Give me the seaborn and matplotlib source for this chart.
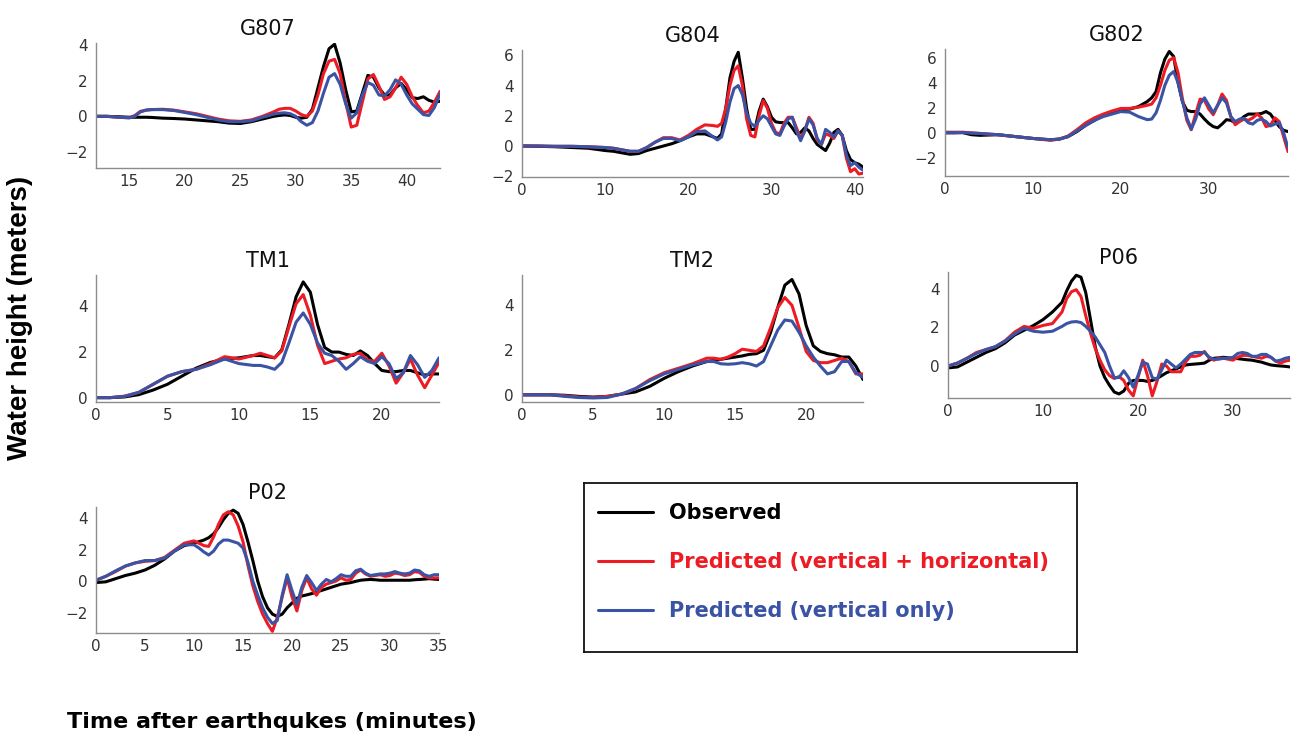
import matplotlib
matplotlib.use('Agg')
import matplotlib.pyplot as plt
from matplotlib.lines import Line2D
import numpy as np
import pandas as pd
import seaborn as sns

sns.set_theme(style='white')
plt.rcParams['font.family'] = ['DejaVu Sans']

# ---------------- data (water height in metres vs minutes) ----------------
series_names = ['Observed', 'Predicted (vertical + horizontal)', 'Predicted (vertical only)']
series_colors = ['#000000', '#ed1c24', '#3a53a4']

g807_t = np.concatenate([[12, 13, 14, 15, 15.5, 16, 16.5, 17, 18, 19, 20, 21, 22, 23, 24, 25, 26, 27, 28],
                         np.arange(28.5, 43.01, 0.5)])
g807_obs = [0, 0, -0.02, -0.05, -0.05, -0.05, -0.05, -0.06, -0.1, -0.12, -0.15, -0.2, -0.25, -0.3, -0.38, -0.4, -0.3, -0.15, 0.0,
            0.05, 0.08, 0.05, -0.05, -0.1, -0.05, 0.4, 1.6, 2.8, 3.8, 4.05, 3.0, 1.5, 0.25, 0.3, 1.3, 2.3, 2.2, 1.6, 1.2,
            1.2, 1.6, 1.85, 1.5, 1.05, 1.0, 1.1, 0.9, 0.8, 0.85]
g807_hv = [0, 0, -0.05, -0.08, 0.05, 0.28, 0.35, 0.38, 0.4, 0.35, 0.25, 0.15, 0.0, -0.15, -0.25, -0.28, -0.2, 0.0, 0.25,
           0.4, 0.45, 0.45, 0.3, 0.1, 0.0, 0.3, 1.2, 2.4, 3.1, 3.2, 2.4, 0.8, -0.6, -0.5, 0.8, 2.1, 2.35, 1.7, 0.95,
           1.1, 1.6, 2.2, 1.8, 1.1, 0.6, 0.2, 0.3, 0.8, 1.4]
g807_v = [0, 0, -0.05, -0.08, 0.0, 0.25, 0.35, 0.38, 0.38, 0.33, 0.22, 0.1, -0.05, -0.2, -0.3, -0.3, -0.25, -0.05, 0.12,
          0.18, 0.2, 0.15, 0.0, -0.3, -0.5, -0.35, 0.3, 1.3, 2.2, 2.4, 1.8, 0.7, -0.1, 0.2, 1.2, 1.9, 1.75, 1.2, 1.15,
          1.5, 2.05, 1.8, 1.2, 0.7, 0.4, 0.1, 0.05, 0.5, 1.25]

g804_t = np.concatenate([[0, 2, 4, 6, 8, 10, 11, 12, 13, 14, 15, 16, 17, 18, 19, 20, 21, 22, 23],
                         np.arange(23.5, 41.01, 0.5)])
g804_obs = [0, -0.02, -0.05, -0.1, -0.15, -0.3, -0.35, -0.45, -0.55, -0.5, -0.3, -0.15, 0.0, 0.15, 0.35, 0.6, 0.8, 0.8, 0.6,
            0.5, 0.8, 2.5, 4.5, 5.6, 6.2, 4.5, 2.5, 1.1, 1.1, 2.3, 3.1, 2.6, 1.9, 1.6, 1.55, 1.55, 1.55, 1.2, 0.8,
            0.9, 1.2, 1.0, 0.5, 0.1, -0.1, -0.3, 0.2, 0.9, 1.1, 0.7, -0.3, -0.9, -1.1, -1.2, -1.4]
g804_hv = [0, 0, -0.02, -0.02, -0.05, -0.1, -0.15, -0.25, -0.35, -0.35, -0.1, 0.25, 0.55, 0.55, 0.4, 0.7, 1.1, 1.4, 1.35,
           1.3, 1.5, 2.5, 4.0, 5.0, 5.3, 4.0, 1.8, 0.7, 0.6, 2.0, 3.0, 2.5, 1.5, 0.9, 0.8, 1.5, 1.9, 1.9, 1.2,
           0.5, 1.0, 1.9, 1.5, 0.4, 0.1, 0.8, 0.7, 0.5, 1.0, 0.7, -0.8, -1.7, -1.5, -1.85, -1.8]
g804_v = [0, 0, -0.02, -0.02, -0.05, -0.1, -0.15, -0.25, -0.35, -0.35, -0.1, 0.25, 0.5, 0.5, 0.35, 0.6, 0.95, 1.0, 0.6,
          0.4, 0.6, 1.6, 2.9, 3.8, 4.0, 3.4, 2.2, 1.5, 1.3, 1.7, 2.0, 1.8, 1.3, 0.8, 0.7, 1.3, 1.8, 1.9, 1.0,
          0.35, 1.0, 1.8, 1.4, 0.5, 0.1, 1.1, 0.9, 0.6, 1.0, 0.7, -0.6, -1.3, -1.1, -1.4, -1.6]

g802_t = np.concatenate([[0, 1, 2, 3, 4, 6, 8, 10, 12, 13, 14, 15, 16, 17, 18, 19, 20, 21, 22, 23],
                         np.arange(23.5, 39.01, 0.5)])
g802_obs = [0, 0, 0.02, -0.15, -0.2, -0.15, -0.3, -0.45, -0.55, -0.5, -0.3, 0.1, 0.6, 1.0, 1.4, 1.65, 1.85, 1.9, 2.1, 2.5,
            2.8, 3.3, 4.8, 5.9, 6.5, 6.1, 4.0, 2.5, 1.8, 1.7, 1.7, 1.5, 1.1, 0.75, 0.5, 0.4, 0.7, 1.05, 1.0, 0.8,
            1.0, 1.3, 1.5, 1.5, 1.5, 1.55, 1.7, 1.5, 1.0, 0.5, 0.2, 0.1]
g802_hv = [0.05, 0.05, 0.05, 0.0, -0.05, -0.15, -0.3, -0.45, -0.6, -0.5, -0.25, 0.25, 0.8, 1.2, 1.5, 1.75, 1.95, 1.95, 2.05, 2.2,
           2.3, 2.8, 3.8, 5.0, 5.8, 6.0, 4.8, 2.7, 1.0, 0.25, 1.5, 2.7, 2.6, 1.9, 1.45, 2.2, 3.1, 2.6, 1.3, 0.65,
           0.9, 1.1, 1.0, 1.2, 1.5, 1.2, 0.5, 0.6, 1.2, 0.9, -0.3, -1.5]
g802_v = [0.02, 0.02, 0.02, -0.02, -0.05, -0.15, -0.3, -0.45, -0.55, -0.5, -0.3, 0.15, 0.6, 1.0, 1.3, 1.5, 1.7, 1.65, 1.3, 1.05,
          1.1, 1.6, 2.6, 3.8, 4.6, 4.9, 4.0, 2.5, 1.2, 0.3, 1.1, 2.3, 2.8, 2.2, 1.6, 2.2, 2.8, 2.4, 1.3, 0.9,
          1.1, 1.15, 0.8, 0.7, 1.0, 1.1, 0.9, 0.55, 0.7, 0.8, 0.0, -1.2]

tm1_t = np.concatenate([np.arange(0, 12), np.arange(11.5, 24.01, 0.5)])
tm1_obs = [0.02, 0.02, 0.05, 0.15, 0.35, 0.6, 0.95, 1.3, 1.55, 1.7, 1.75, 1.85,
           1.85, 1.8, 1.75, 2.1, 3.2, 4.4, 5.05, 4.6, 3.2, 2.2, 2.0, 2.0, 1.9, 1.85, 2.05, 1.85, 1.5, 1.2,
           1.15, 1.15, 1.2, 1.2, 1.1, 1.0, 1.05, 1.05]
tm1_hv = [0.02, 0.02, 0.08, 0.25, 0.6, 0.95, 1.15, 1.25, 1.5, 1.8, 1.7, 1.85,
          1.95, 1.85, 1.75, 2.05, 3.1, 4.1, 4.5, 3.6, 2.3, 1.5, 1.6, 1.7, 1.75, 1.9, 1.95, 1.65, 1.6, 1.95,
          1.4, 0.65, 1.1, 1.7, 1.0, 0.45, 1.0, 1.55]
tm1_v = [0.02, 0.02, 0.08, 0.25, 0.6, 0.95, 1.15, 1.25, 1.45, 1.7, 1.5, 1.42,
         1.42, 1.35, 1.25, 1.55, 2.4, 3.3, 3.7, 3.2, 2.4, 1.95, 1.85, 1.6, 1.25, 1.5, 1.8, 1.6, 1.5, 1.8,
         1.5, 0.85, 1.1, 1.85, 1.45, 0.9, 1.2, 1.75]

tm2_t = np.concatenate([np.arange(0, 14), np.arange(13.5, 24.01, 0.5)])
tm2_obs = [0.02, 0.02, 0.02, 0.0, -0.05, -0.08, -0.05, 0.05, 0.15, 0.4, 0.75, 1.05, 1.3, 1.5, 1.55, 1.6,
           1.65, 1.7, 1.75, 1.82, 1.85, 2.0, 2.8, 3.9, 4.9, 5.15, 4.5, 3.1, 2.2, 1.95, 1.85, 1.8, 1.7, 1.7, 1.3, 0.7]
tm2_hv = [0.02, 0.02, 0.02, -0.02, -0.08, -0.1, -0.05, 0.05, 0.3, 0.7, 1.0, 1.2, 1.4, 1.65, 1.65, 1.6,
          1.7, 1.85, 2.05, 2.0, 1.95, 2.2, 3.0, 3.9, 4.35, 4.0, 3.0, 1.95, 1.55, 1.45, 1.45, 1.55, 1.65, 1.5, 0.95, 0.95]
tm2_v = [0.02, 0.02, 0.02, -0.05, -0.1, -0.12, -0.1, 0.05, 0.3, 0.65, 0.95, 1.15, 1.35, 1.5, 1.5, 1.4,
         1.38, 1.4, 1.45, 1.4, 1.3, 1.5, 2.2, 2.9, 3.35, 3.3, 2.8, 2.2, 1.7, 1.3, 0.95, 1.05, 1.5, 1.5, 1.0, 0.8]

p06_t = np.concatenate([np.arange(0, 13), np.arange(12.5, 36.01, 0.5)])
p06_obs = [-0.1, -0.05, 0.2, 0.45, 0.7, 0.9, 1.2, 1.6, 1.85, 2.1, 2.4, 2.8, 3.3,
           3.9, 4.4, 4.7, 4.6, 3.8, 2.4, 1.0, 0.0, -0.6, -1.0, -1.35, -1.45, -1.3, -0.9, -0.75, -0.75, -0.75,
           -0.8, -0.75, -0.65, -0.5, -0.35, -0.25, -0.15, -0.05, 0.05, 0.08, 0.1, 0.12, 0.15, 0.3, 0.4, 0.42,
           0.45, 0.42, 0.4, 0.38, 0.35, 0.32, 0.3, 0.25, 0.2, 0.12, 0.05, 0.02, 0.0, -0.02, -0.05]
p06_hv = [0.0, 0.15, 0.4, 0.7, 0.85, 1.0, 1.3, 1.75, 2.05, 1.95, 2.1, 2.2, 2.8,
          3.5, 3.85, 3.95, 3.6, 2.6, 1.7, 0.9, 0.3, -0.2, -0.5, -0.65, -0.55, -0.75, -1.25, -1.55, -0.6, 0.3,
          -0.5, -1.55, -0.8, 0.1, 0.0, -0.3, -0.3, -0.3, 0.2, 0.5, 0.5, 0.55, 0.75, 0.4, 0.3, 0.4,
          0.4, 0.35, 0.3, 0.45, 0.55, 0.55, 0.5, 0.45, 0.4, 0.5, 0.45, 0.25, 0.15, 0.25, 0.3]
p06_v = [0.0, 0.15, 0.4, 0.65, 0.85, 1.0, 1.3, 1.65, 1.95, 1.8, 1.75, 1.8, 2.05,
         2.2, 2.28, 2.3, 2.25, 2.05, 1.8, 1.5, 1.1, 0.7, 0.0, -0.6, -0.6, -0.25, -0.6, -1.1, -0.5, 0.2,
         0.1, -0.6, -0.7, -0.2, 0.3, 0.1, -0.1, 0.1, 0.35, 0.6, 0.7, 0.7, 0.7, 0.45, 0.35, 0.35,
         0.4, 0.4, 0.45, 0.65, 0.7, 0.65, 0.5, 0.5, 0.6, 0.6, 0.45, 0.25, 0.3, 0.4, 0.45]

p02_t = np.concatenate([np.arange(0, 11), np.arange(10.5, 35.01, 0.5)])
p02_obs = [-0.1, -0.05, 0.15, 0.35, 0.5, 0.7, 1.0, 1.4, 1.9, 2.25, 2.4,
           2.5, 2.6, 2.75, 3.0, 3.4, 3.9, 4.3, 4.5, 4.3, 3.6, 2.5, 1.3, 0.0, -1.0, -1.7, -2.1, -2.25, -2.1, -1.7,
           -1.4, -1.1, -0.95, -0.88, -0.8, -0.7, -0.6, -0.5, -0.4, -0.3, -0.2, -0.15, -0.1, -0.02, 0.05, 0.08,
           0.1, 0.08, 0.05, 0.05, 0.05, 0.05, 0.05, 0.05, 0.05, 0.08, 0.1, 0.12, 0.15, 0.12, 0.1]
p02_hv = [0.05, 0.3, 0.6, 0.95, 1.15, 1.25, 1.3, 1.5, 1.95, 2.4, 2.55,
          2.4, 2.25, 2.2, 2.8, 3.6, 4.2, 4.4, 4.2, 3.5, 2.5, 1.0, -0.3, -1.3, -2.1, -2.7, -3.2, -2.3, -1.0, 0.2,
          -1.0, -1.9, -0.6, 0.2, -0.5, -0.9, -0.4, -0.2, -0.1, 0.0, 0.2, 0.05, 0.1, 0.5, 0.7, 0.45,
          0.3, 0.35, 0.4, 0.3, 0.35, 0.5, 0.45, 0.35, 0.4, 0.6, 0.55, 0.3, 0.2, 0.2, 0.2]
p02_v = [0.05, 0.3, 0.65, 0.95, 1.15, 1.3, 1.3, 1.45, 1.9, 2.3, 2.3,
         2.1, 1.85, 1.65, 1.9, 2.35, 2.6, 2.6, 2.5, 2.4, 2.1, 1.2, 0.0, -0.9, -1.7, -2.3, -2.7, -2.5, -0.9, 0.4,
         -0.6, -1.5, -0.4, 0.35, -0.1, -0.6, -0.2, 0.1, -0.05, 0.15, 0.4, 0.3, 0.3, 0.65, 0.75, 0.5,
         0.35, 0.4, 0.45, 0.45, 0.5, 0.6, 0.5, 0.45, 0.5, 0.7, 0.65, 0.4, 0.3, 0.4, 0.4]

# ---------------- layout (pixel boxes of the 1300x747 figure) ----------------
W, H = 1300, 747
panels = [
    # name, t, obs, h+v, v, (left, top, right, bottom), ylim, xlim, xticks, yticks
    ('G807', g807_t, g807_obs, g807_hv, g807_v, (96, 43, 440, 168), (-2.9, 4.12), (12, 43), range(15, 41, 5), [-2, 0, 2, 4]),
    ('G804', g804_t, g804_obs, g804_hv, g804_v, (522, 50, 863, 177), (-2.05, 6.35), (0, 41), range(0, 41, 10), [-2, 0, 2, 4, 6]),
    ('G802', g802_t, g802_obs, g802_hv, g802_v, (945, 49, 1288, 176), (-3.45, 6.7), (0, 39), range(0, 31, 10), [-2, 0, 2, 4, 6]),
    ('TM1', tm1_t, tm1_obs, tm1_hv, tm1_v, (96, 275, 439, 402), (-0.17, 5.35), (0, 24), range(0, 21, 5), [0, 2, 4]),
    ('TM2', tm2_t, tm2_obs, tm2_hv, tm2_v, (522, 275, 863, 402), (-0.3, 5.35), (0, 24), range(0, 21, 5), [0, 2, 4]),
    ('P06', p06_t, p06_obs, p06_hv, p06_v, (948, 272, 1290, 398), (-1.66, 4.87), (0, 36), range(0, 31, 10), [0, 2, 4]),
    ('P02', p02_t, p02_obs, p02_hv, p02_v, (96, 507, 439, 633), (-3.3, 4.7), (0, 35), range(0, 36, 5), [-2, 0, 2, 4]),
]

fig = plt.figure(figsize=(W / 100, H / 100), dpi=100)

for name, t, obs, hv, v, box, ylim, xlim, xt, yt in panels:
    l, tp, r, b = box
    ax = fig.add_axes([l / W, 1 - b / H, (r - l) / W, (b - tp) / H])
    df = pd.DataFrame({
        'time': np.tile(t, 3),
        'height': np.concatenate([obs, hv, v]),
        'series': np.repeat(series_names, len(t)),
    })
    sns.lineplot(data=df, x='time', y='height', hue='series', hue_order=series_names,
                 palette=series_colors, linewidth=2.2, estimator=None, sort=False,
                 legend=False, ax=ax)
    ax.set_xlim(*xlim)
    ax.set_ylim(*ylim)
    ax.set_xticks(list(xt))
    ax.set_yticks(yt)
    ax.set_xlabel('')
    ax.set_ylabel('')
    ax.set_title(name, fontsize=15, pad=6, color='#111111')
    for s in ['top', 'right']:
        ax.spines[s].set_visible(False)
    for s in ['left', 'bottom']:
        ax.spines[s].set_color('#8c8c8c')
        ax.spines[s].set_linewidth(1.0)
    ax.tick_params(length=0, labelsize=11, colors='#333333')
    ax.tick_params(axis='x', pad=4)
    ax.tick_params(axis='y', pad=6)

# legend box
lb = (584, 483, 1077, 652)
lax = fig.add_axes([lb[0] / W, 1 - lb[3] / H, (lb[2] - lb[0]) / W, (lb[3] - lb[1]) / H])
lax.set_xticks([])
lax.set_yticks([])
for s in lax.spines.values():
    s.set_color('#111111')
    s.set_linewidth(1.3)
handles = [Line2D([], [], color=c, lw=2.2) for c in series_colors]
leg = lax.legend(handles, series_names, loc='upper left', bbox_to_anchor=(14 / 493, 1 - 20 / 169),
                 frameon=False, borderpad=0, borderaxespad=0, handlelength=2.65, handletextpad=0.75,
                 labelspacing=1.4, prop={'family': 'DejaVu Sans', 'weight': 'bold', 'size': 15})
for txt, c in zip(leg.get_texts(), series_colors):
    txt.set_color(c)

fig.text(20 / W, 1 - 318 / H, 'Water height (meters)', rotation=90, ha='center', va='center',
         fontsize=20, fontweight='bold', family='Liberation Sans', color='black')
fig.text(67 / W, 1 - 722 / H, 'Time after earthqukes (minutes)', ha='left', va='center',
         fontsize=16, fontweight='bold', family='DejaVu Sans', color='black')

fig.savefig('out.png', dpi=100)
